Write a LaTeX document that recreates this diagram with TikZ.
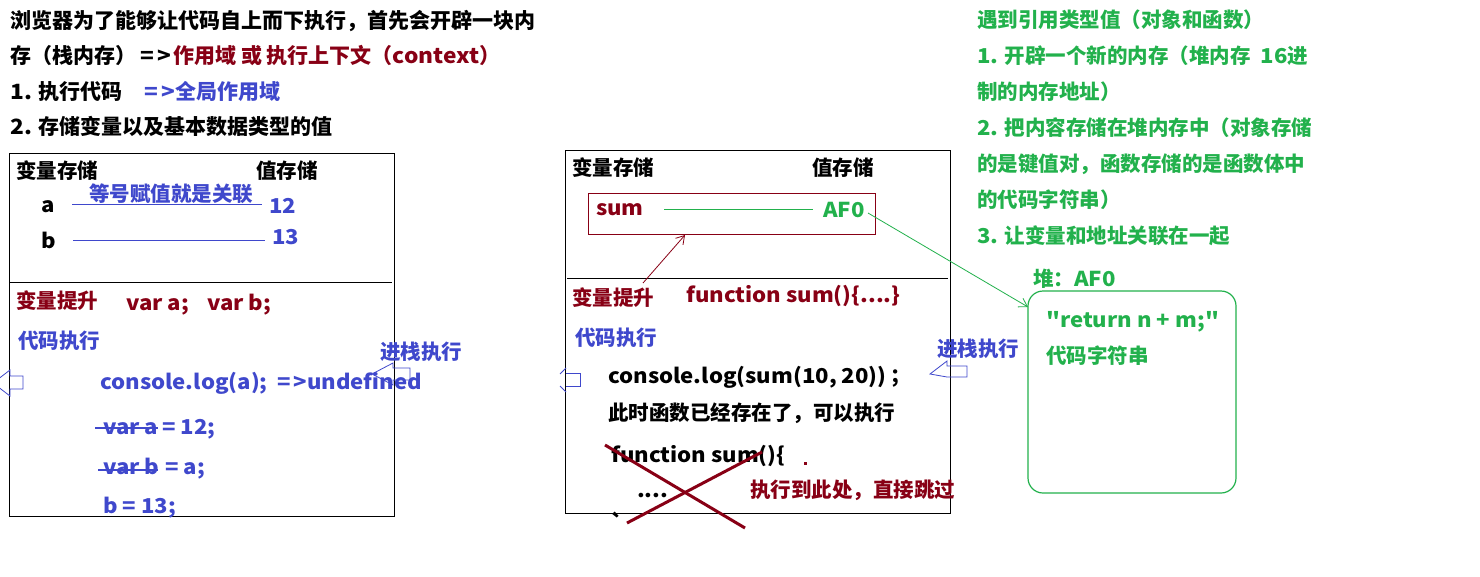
\documentclass[tikz,border=0pt]{standalone}
\usepackage{fontspec}
\setmainfont{Noto Sans CJK SC}
\newfontfamily\enfont{Noto Sans CJK SC}[FakeStretch=1.08]
\newcommand\Lat[1]{{\enfont #1}}
\usetikzlibrary{arrows.meta}
\definecolor{dred}{HTML}{880015}
\definecolor{iblue}{HTML}{3F48CC}
\definecolor{pgreen}{HTML}{22B14C}
\tikzset{
  txt/.style={inner sep=0pt, anchor=base west, font=\fontsize{20.5pt}{24pt}\selectfont\bfseries},
  txtbig/.style={txt, font=\fontsize{21pt}{24pt}\selectfont\bfseries},
  boxline/.style={draw=black, line width=1pt},
  link/.style={line width=1pt},
  barb/.style={-{Straight Barb[length=8pt,width=10pt]}, line width=0.8pt},
  blk/.style={draw=iblue, line width=0.8pt},
}
\begin{document}
\begin{tikzpicture}[x=1pt,y=-1pt]
\fill[white] (0,0) rectangle (1480,576);
\useasboundingbox (0,0) rectangle (1480,576);

% ---------- top left text ----------
\node[txtbig] (l1) at (10,28) {浏览器为了能够让代码自上而下执行，首先会开辟一块内};
\node[txtbig] (l2a) at (10,63) {存（栈内存）};
\node[txtbig] (l2b) at (140,63) {\Lat{=\kern3pt>}};
\node[txtbig,text=dred] (l2c) at (173,63) {作用域 或 执行上下文（\Lat{context}）};
\node[txtbig] (l3a) at (10,99) {\Lat{1.} 执行代码};
\node[txtbig,text=iblue] (l3b) at (144,99) {\Lat{=\kern3pt>}};
\node[txtbig,text=iblue] (l3c) at (175,99) {全局作用域};
\node[txtbig] (l4) at (10,134) {\Lat{2.} 存储变量以及基本数据类型的值};

% ---------- left box ----------
\draw[boxline] (9,153) rectangle (394,516);
\draw[boxline] (10,282) -- (392,282);
\node[txt] (lvs) at (16,178) {变量存储};
\node[txt] (lzs) at (256,178) {值存储};
\node[txt] (va) at (41,212) {\Lat{a}};
\node[txt] (vb) at (41,248) {\Lat{b}};
\node[txt,text=iblue] (eqlab) at (89,201) {等号赋值就是关联};
\node[txt,text=iblue] (v12) at (269,213) {\Lat{12}};
\node[txt,text=iblue] (v13) at (272,244) {\Lat{13}};
\coordinate (la1) at (72,204); \coordinate (la2) at (262,204);
\coordinate (lb1) at (73,240); \coordinate (lb2) at (265,240);
\draw[link,iblue] (la1) -- (la2);
\draw[link,iblue] (lb1) -- (lb2);
\node[txt,text=dred] (lts) at (16,308) {变量提升};
\node[txt,text=dred] (lvara) at (126,310) {\Lat{var a;}};
\node[txt,text=dred] (lvarb) at (207,310) {\Lat{var b;}};
\node[txt,text=iblue] (ldm) at (18,348) {代码执行};
\node[txt,text=iblue] (ljz) at (380,359) {进栈执行};
\node[txt,text=iblue] (lcl) at (100,389) {\Lat{console.log(a);}};
\node[txt,text=iblue] (lund) at (277,389) {\Lat{=\kern3pt>undefined}};
\node[txt,text=iblue] (sva) at (103,434) {\Lat{var a}};
\node[txt,text=iblue] (sva2) at (162,434) {\Lat{= 12;}};
\node[txt,text=iblue] (svb) at (103,474) {\Lat{var b}};
\node[txt,text=iblue] (svb2) at (165,474) {\Lat{= a;}};
\node[txt,text=iblue] (sb13) at (103,513) {\Lat{b = 13;}};
\draw[iblue, line width=2.2pt] (95,428) -- (158,428);
\draw[iblue, line width=2.2pt] (98,470) -- (158,470);
% block arrows (left box)
\draw[blk] (10,389) -- (23,389) -- (23,376) -- (10,376) -- (10,370) -- (-7,383) -- (10,396) -- cycle;
\draw[blk] (372,374) -- (393,363) -- (393,368) -- (410,368) -- (410,380) -- (393,380) -- (393,385) -- cycle;

% ---------- middle box ----------
\draw[boxline] (565,150) rectangle (950,513);
\draw[boxline] (567,278) -- (948,278);
\node[txt] (mvs) at (572,175) {变量存储};
\node[txt] (mzs) at (812,175) {值存储};
\draw[dred, line width=1pt] (588,193) rectangle (875,234);
\node[txt,text=dred] (msum) at (596,215) {\Lat{sum}};
\node[txt,text=pgreen] (maf) at (823,217) {\Lat{AF0}};
\coordinate (ms1) at (664,209); \coordinate (ms2) at (813,209);
\draw[link,pgreen] (ms1) -- (ms2);
\node[txt,text=dred] (mts) at (572,305) {变量提升};
\node[txt,text=dred] (mfn) at (686,302) {\Lat{function sum()\{....\}}};
\coordinate (hoistA) at (643,283); \coordinate (hoistB) at (685,235);
\draw[barb,dred] (hoistA) -- (hoistB);
\node[txt,text=iblue] (mdm) at (575,345) {代码执行};
\node[txt,text=iblue] (mjz) at (937,356) {进栈执行};
\node[txt] (mcl) at (608,383) {\Lat{console.log(sum(10, 20))}\,；};
\node[txt] (mcz) at (608,420) {此时函数已经存在了，可以执行};
\node[txt] (mfs) at (611,462) {\Lat{function sum()\{}};
\node[txt] (mdots) at (637,497) {\Lat{....}};
\node[txt] (mtick) at (610,531) {\Lat{`}};
\fill[dred] (804,462) rectangle (807,465);
\draw[dred, line width=3pt] (605,445) -- (745,528);
\draw[dred, line width=3pt] (627,523) -- (762,452);
\node[txt,text=dred] (mskip) at (750,497) {执行到此处，直接跳过};
% block arrows (middle box)
\draw[blk] (566,386) -- (580,386) -- (580,373) -- (566,373);
\draw[blk] (566,368) -- (560,374);
\draw[blk] (566,392) -- (560,386);
\draw[blk] (930,374) -- (947,361) -- (947,366) -- (967,366) -- (967,377) -- (947,377) -- cycle;

% ---------- right text ----------
\node[txt,text=pgreen] (r1) at (977,27) {遇到引用类型值（对象和函数）};
\node[txt,text=pgreen] (r2) at (977,63) {\Lat{1.} 开辟一个新的内存（堆内存\hspace{10pt}\Lat{16}进};
\node[txt,text=pgreen] (r3) at (977,99) {制的内存地址）};
\node[txt,text=pgreen] (r4) at (977,135) {\Lat{2.} 把内容存储在堆内存中（对象存储};
\node[txt,text=pgreen] (r5) at (977,171) {的是键值对，函数存储的是函数体中};
\node[txt,text=pgreen] (r6) at (977,207) {的代码字符串）};
\node[txt,text=pgreen] (r7) at (977,243) {\Lat{3.} 让变量和地址关联在一起};

% ---------- heap ----------
\node[draw=pgreen, line width=1.2pt, rounded corners=15pt, minimum width=208pt, minimum height=202pt, inner sep=0pt] (heap) at (1132,392) {};
\node[txt,text=pgreen] (hlab) at (1033,286) {堆：\Lat{AF0}};
\node[txt,text=pgreen] (hret) at (1046,327) {\Lat{"return n + m;"}};
\node[txt,text=pgreen] (hcode) at (1046,363) {代码字符串};
\coordinate (gA) at (868,213); \coordinate (gB) at (1028,307);
\draw[barb,pgreen] (gA) -- (gB);
\end{tikzpicture}
\end{document}
